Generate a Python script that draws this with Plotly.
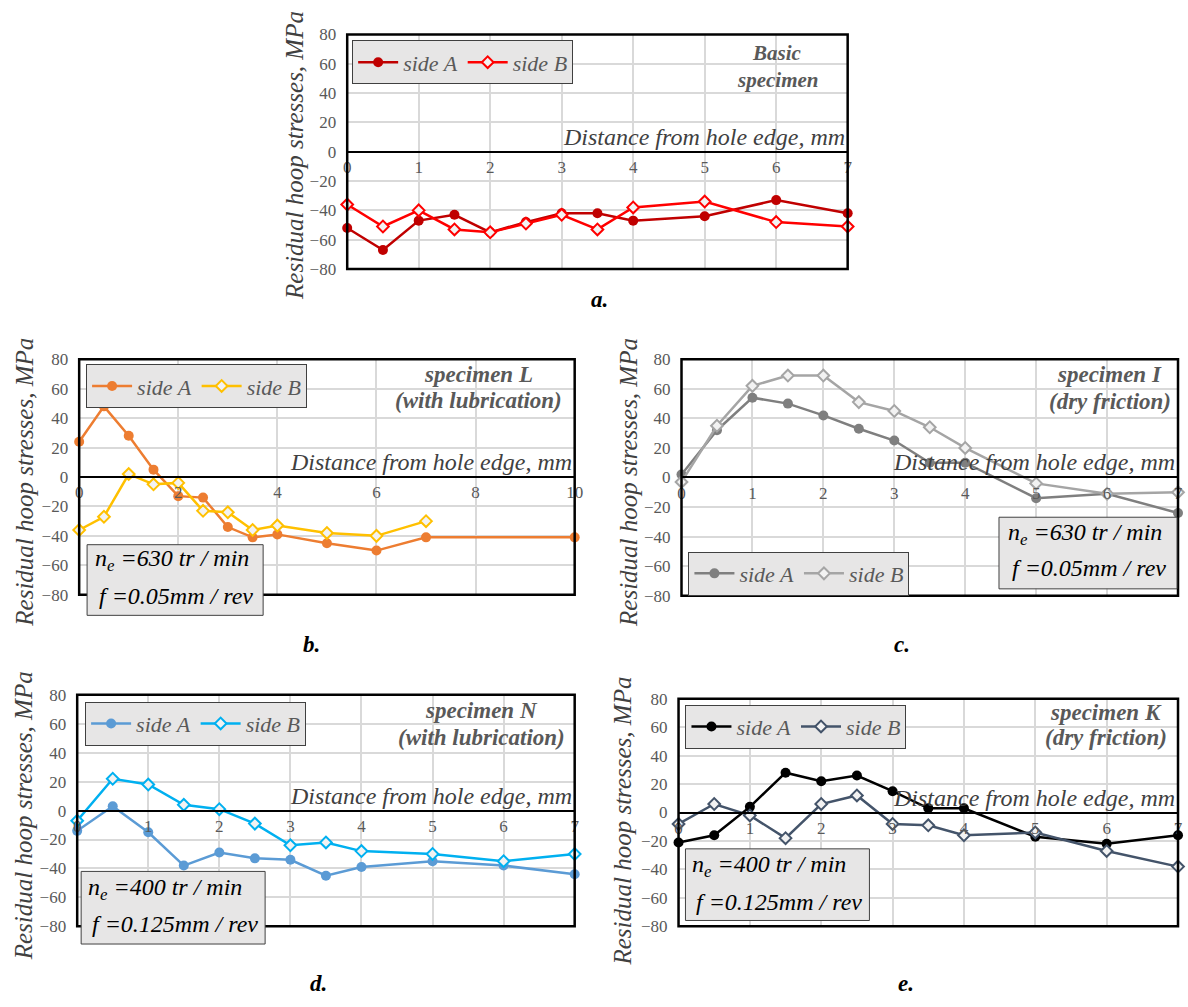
import plotly.graph_objects as go

W, H = 1188, 1007
FONT = "Liberation Serif"

# ---------------- data ----------------
x_pts = [0, 0.5, 1, 1.5, 2, 2.5, 3, 3.5, 4, 5, 6, 7]

a_sideA = [-52, -67, -47, -43, -55, -48, -42, -42, -47, -44, -33, -42]
a_sideB = [-36, -51, -40, -53, -55, -49, -43, -53, -38, -34, -48, -51]

b_xA = [0, 0.5, 1, 1.5, 2, 2.5, 3, 3.5, 4, 5, 6, 7, 10]
b_sideA = [24, 48, 28, 5, -13, -14, -34, -41, -39, -45, -50, -41, -41]
b_xB = [0, 0.5, 1, 1.5, 2, 2.5, 3, 3.5, 4, 5, 6, 7]
b_sideB = [-36, -27, 2, -5, -4, -23, -24, -36, -33, -38, -40, -30]

c_sideA = [2, 32, 54, 50, 42, 33, 25, 10, 10, -14, -11, -24]
c_sideB = [-3, 35, 62, 69, 69, 51, 45, 34, 20, -4, -11, -10]

d_sideA = [-14, 3, -15, -38, -29, -33, -34, -45, -39, -35, -38, -44]
d_sideB = [-7, 22, 18, 4, 1, -9, -24, -22, -28, -30, -35, -30]

e_sideA = [-21, -16, 4, 28, 22, 26, 15, 3, 3, -17, -22, -16]
e_sideB = [-8, 6, -2, -18, 6, 12, -8, -9, -16, -14, -27, -38]

y_ticks = [80, 60, 40, 20, 0, -20, -40, -60, -80]
series_names = ["side A", "side B"]
x_title = "Distance from hole edge, mm"
y_title = "Residual hoop stresses, MPa"

# ---------------- layout helpers ----------------
def px(x):
    return x / W

def py(y):
    return 1 - y / H

panels = [
    dict(xA=x_pts, yA=a_sideA, xB=x_pts, yB=a_sideB, cA="#C00000", cB="#FF0000",
         xmax=7, dt=1, box=(347, 26, 853, 265), lab="a.", labpos=(602, 296),
         spec=["Basic", "specimen"], specx=782, specy=(45, 72), spec_size=21,
         ytitle=(293, 149), leg=(352, 32), params=None),
    dict(xA=b_xA, yA=b_sideA, xB=b_xB, yB=b_sideB, cA="#ED7D31", cB="#FFC000",
         xmax=10, dt=2, box=(76, 357, 577, 597), lab="b.", labpos=(311, 648),
         spec=["specimen L", "(with lubrication)"], specx=480, specy=(373, 399), spec_size=23,
         ytitle=(21, 482), leg=(83, 362),
         params=dict(box=(84, 546, 262, 618), n="630", f="0.05", ys=(562, 598), x=90)),
    dict(xA=x_pts, yA=c_sideA, xB=x_pts, yB=c_sideB, cA="#7F7F7F", cB="#A5A5A5",
         xmax=7, dt=1, box=(685, 357, 1187, 598), lab="c.", labpos=(908, 648),
         spec=["specimen I", "(dry friction)"], specx=1118, specy=(373, 400), spec_size=23,
         ytitle=(632, 483), leg=(692, 553),
         params=dict(box=(1006, 518, 1186, 591), n="630", f="0.05", ys=(535, 570), x=1013)),
    dict(xA=x_pts, yA=d_sideA, xB=x_pts, yB=d_sideB, cA="#5B9BD5", cB="#00B0F0",
         xmax=7, dt=1, box=(74, 699, 577, 935), lab="d.", labpos=(318, 993),
         spec=["specimen N", "(with lubrication)"], specx=483, specy=(715, 742), spec_size=23,
         ytitle=(20, 822), leg=(82, 706),
         params=dict(box=(78, 879, 264, 953), n="400", f="0.125", ys=(897, 933), x=83)),
    dict(xA=x_pts, yA=e_sideA, xB=x_pts, yB=e_sideB, cA="#000000", cB="#44546A",
         xmax=7, dt=1, box=(682, 703, 1187, 935), lab="e.", labpos=(912, 993),
         spec=["specimen K", "(dry friction)"], specx=1114, specy=(717, 743), spec_size=23,
         ytitle=(625, 828), leg=(689, 709),
         params=dict(box=(689, 856, 875, 929), n="400", f="0.125", ys=(873, 910), x=694)),
]

fig = go.Figure()
shapes = []
annotations = []
layout = dict(
    width=W, height=H, autosize=False,
    margin=dict(l=0, r=0, t=0, b=0),
    paper_bgcolor="white", plot_bgcolor="white",
    showlegend=True,
    font=dict(family=FONT, color="#595959"),
)

for i, p in enumerate(panels, start=1):
    sfx = "" if i == 1 else str(i)
    xa, ya = "x" + sfx, "y" + sfx
    leg = "legend" + sfx
    l, t, r, b = p["box"]
    ydom = [py(b), py(t)]
    xdom = [px(l), px(r)]

    fig.add_trace(go.Scatter(
        x=p["xA"], y=p["yA"], xaxis=xa, yaxis=ya, name="<i>" + series_names[0] + "</i>",
        mode="lines+markers", legend=leg, cliponaxis=False,
        line=dict(color=p["cA"], width=2.5),
        marker=dict(symbol="circle", size=10, color=p["cA"]),
    ))
    fig.add_trace(go.Scatter(
        x=p["xB"], y=p["yB"], xaxis=xa, yaxis=ya, name="<i>" + series_names[1] + "</i>",
        mode="lines+markers", legend=leg, cliponaxis=False,
        line=dict(color=p["cB"], width=2.5),
        marker=dict(symbol="diamond", size=9, color="#F2F2F2",
                    line=dict(color=p["cB"], width=2)),
    ))

    layout["xaxis" + sfx] = dict(
        domain=xdom, range=[0, p["xmax"]], dtick=p["dt"], tick0=0,
        anchor="free", position=(ydom[0] + ydom[1]) / 2,
        showgrid=True, gridcolor="#D9D9D9", gridwidth=1.5,
        zeroline=False, showline=True, linecolor="black", linewidth=2,
        ticks="", tickfont=dict(family=FONT, size=17, color="#595959"),
        fixedrange=True,
    )
    layout["yaxis" + sfx] = dict(
        domain=ydom, range=[-80, 80], tickvals=y_ticks,
        anchor=xa, showgrid=True, gridcolor="#D9D9D9", gridwidth=1.5,
        zeroline=False, showline=False, ticks="",
        ticklabelstandoff=10,
        tickfont=dict(family=FONT, size=17, color="#595959"),
        fixedrange=True,
    )
    layout[leg] = dict(
        x=px(p["leg"][0]), y=py(p["leg"][1]), xanchor="left", yanchor="top",
        xref="paper", yref="paper",
        orientation="h", bgcolor="#E7E6E6", bordercolor="#404040", borderwidth=1,
        font=dict(family=FONT, size=22, color="#595959"),
        itemwidth=40, tracegroupgap=0,
    )

    shapes.append(dict(type="rect", xref=xa + " domain", yref=ya + " domain",
                       x0=0, x1=1, y0=0, y1=1, line=dict(color="black", width=2.5),
                       layer="above"))

    annotations.append(dict(
        text="<i>" + x_title + "</i>", xref=xa + " domain", yref=ya,
        x=1, y=0, xanchor="right", yanchor="bottom", xshift=-1, showarrow=False,
        font=dict(family=FONT, size=24, color="#404040"),
    ))
    annotations.append(dict(
        text="<i>" + y_title + "</i>", xref="paper", yref="paper",
        x=px(p["ytitle"][0]), y=py(p["ytitle"][1]), xanchor="center", yanchor="middle",
        textangle=-90, showarrow=False,
        font=dict(family=FONT, size=25, color="#404040"),
    ))
    annotations.append(dict(
        text="<b><i>" + p["lab"] + "</i></b>", xref="paper", yref="paper",
        x=px(p["labpos"][0]), y=py(p["labpos"][1]), xanchor="center", yanchor="middle",
        showarrow=False, font=dict(family=FONT, size=23, color="black"),
    ))
    for line_txt, yy in zip(p["spec"], p["specy"]):
        annotations.append(dict(
            text="<b><i>" + line_txt + "</i></b>", xref="paper", yref="paper",
            x=px(p["specx"]), y=py(yy), xanchor="center", yanchor="middle",
            showarrow=False, font=dict(family=FONT, size=p["spec_size"], color="#595959"),
        ))
    if p["params"]:
        q = p["params"]
        bl, bt, br, bb = q["box"]
        shapes.append(dict(type="rect", xref="paper", yref="paper",
                           x0=px(bl), x1=px(br), y0=py(bb), y1=py(bt),
                           fillcolor="#E7E6E6", line=dict(color="#404040", width=1),
                           layer="above"))
        annotations.append(dict(
            text="<i>n<sub>e</sub> =" + q["n"] + " tr / min</i>", xref="paper", yref="paper",
            x=px(q["x"]), y=py(q["ys"][0]), xanchor="left", yanchor="middle",
            showarrow=False, font=dict(family=FONT, size=24, color="black"),
        ))
        annotations.append(dict(
            text="<i>f =" + q["f"] + "mm / rev</i>", xref="paper", yref="paper",
            x=px(q["x"] + 4), y=py(q["ys"][1]), xanchor="left", yanchor="middle",
            showarrow=False, font=dict(family=FONT, size=24, color="black"),
        ))

layout["shapes"] = shapes
layout["annotations"] = annotations
fig.update_layout(**layout)

fig.write_html(
    "out.html",
    config={"displayModeBar": False},
    post_script="document.body.style.margin='0';document.body.style.overflow='hidden';",
)
